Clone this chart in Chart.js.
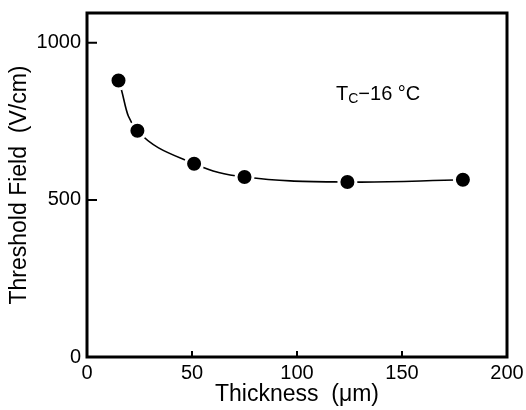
<!DOCTYPE html>
<html>
<head>
<meta charset="utf-8">
<script src="https://cdn.jsdelivr.net/npm/chart.js@4/dist/chart.umd.min.js"></script>
<style>
    body { margin: 0; background: #fff; }
    canvas { display: block; }
</style>
</head>
<body>
<canvas id="threshold-chart" width="526" height="410"></canvas>
<script>
// values
const thickness = [15, 24, 51, 75, 124, 179];      // µm
const thresholdField = [880, 720, 615, 573, 557, 564]; // V/cm
const xTicks = [0, 50, 100, 150, 200];
const yTicks = [0, 500, 1000];
const noteText = ['T', 'C', '\u221216 \u00b0C'];

const FONT = "'Liberation Sans', Arial, sans-serif";

// box around the plot area and the small inward tick marks
const framePlugin = {
    id: 'frame',
    afterDatasetsDraw(chart) {
        const {ctx, chartArea: a, scales} = chart;
        ctx.save();
        ctx.strokeStyle = '#000';
        ctx.lineWidth = 3;
        ctx.strokeRect(a.left, a.top, a.right - a.left, a.bottom - a.top);

        ctx.lineWidth = 2;
        ctx.beginPath();
        yTicks.slice(1).forEach(v => {
            const y = scales.y.getPixelForValue(v);
            ctx.moveTo(a.left, y);
            ctx.lineTo(a.left + 10, y);
        });
        xTicks.slice(1, -1).forEach(v => {
            const x = scales.x.getPixelForValue(v);
            ctx.moveTo(x, a.bottom);
            ctx.lineTo(x, a.bottom - 6);
        });
        ctx.stroke();

        // T_C - 16 °C note
        let x = 336;
        const base = 100;
        ctx.fillStyle = '#000';
        ctx.textBaseline = 'alphabetic';
        ctx.font = '20px ' + FONT;
        ctx.fillText(noteText[0], x, base);
        x += ctx.measureText(noteText[0]).width;
        ctx.font = '14px ' + FONT;
        ctx.fillText(noteText[1], x, base + 3);
        x += ctx.measureText(noteText[1]).width;
        ctx.font = '20px ' + FONT;
        ctx.fillText(noteText[2], x, base);
        ctx.restore();
    }
};

const chart = new Chart(document.getElementById('threshold-chart'), {
    type: 'scatter',
    data: {
        datasets: [{
            data: thickness.map((t, i) => ({x: t, y: thresholdField[i]})),
            showLine: true,
            borderColor: '#000',
            borderWidth: 1.6,
            tension: 0.4,
            pointRadius: 8.5,
            pointBackgroundColor: '#000',
            pointBorderColor: '#fff',
            pointBorderWidth: 3,
        }]
    },
    options: {
        responsive: false,
        animation: false,
        layout: {padding: {top: 13, right: 19, left: 0, bottom: 0}},
        plugins: {legend: {display: false}, tooltip: {enabled: false}},
        scales: {
            x: {
                type: 'linear',
                min: 0,
                max: 200,
                afterFit: s => { s.height = 53; s.paddingLeft = 0; s.paddingRight = 0; },
                afterBuildTicks: s => { s.ticks = xTicks.map(v => ({value: v})); },
                grid: {display: false, drawTicks: false},
                border: {display: false},
                ticks: {color: '#000', padding: 4, font: {family: FONT, size: 20}, callback: v => String(v)},
                title: {
                    display: true,
                    text: 'Thickness  (\u03bcm)',
                    color: '#000',
                    padding: {top: 0, bottom: 2},
                    font: {family: FONT, size: 23}
                }
            },
            y: {
                min: 0,
                max: 1095,
                afterFit: s => { s.width = 87; s.paddingTop = 0; s.paddingBottom = 0; },
                afterBuildTicks: s => { s.ticks = yTicks.map(v => ({value: v})); },
                grid: {display: false, drawTicks: false},
                border: {display: false},
                ticks: {color: '#000', padding: 6, font: {family: FONT, size: 20}, callback: v => String(v)},
                title: {
                    display: true,
                    text: 'Threshold Field  (V/cm)',
                    color: '#000',
                    padding: {top: 6, bottom: 0},
                    font: {family: FONT, size: 23}
                }
            }
        }
    },
    plugins: [framePlugin]
});
</script>
</body>
</html>
